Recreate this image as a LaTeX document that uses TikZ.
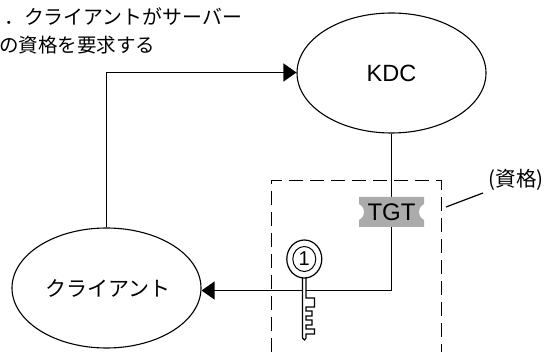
\documentclass[tikz,border=0pt]{standalone}
\usepackage{fontspec}
\setmainfont{Liberation Sans}
\newfontfamily\cjk{Noto Sans CJK JP}
\usetikzlibrary{arrows.meta,shapes.geometric}
\tikzset{
  ell/.style={draw=black,line width=1.1pt,ellipse,minimum width=189pt,minimum height=120pt,inner sep=0pt,font=\fontsize{23.5}{26}\selectfont},
  conn/.style={draw=black,line width=1.2pt},
  arr/.style={conn,-{Triangle[length=13pt,width=18pt]}},
  lab/.style={inner sep=0pt,anchor=base west,font=\cjk\fontsize{19.5}{22}\selectfont},
  keyline/.style={draw=black,line width=1.2pt,fill=white},
  frame/.style={draw=black,line width=1pt,dash pattern=on 14pt off 7pt}
}
\begin{document}
\begin{tikzpicture}[x=1pt,y=-1pt]
\useasboundingbox (0,0) rectangle (545,352);
\fill[white] (0,0) rectangle (545,352);
\node[ell] (kdc) at (391.5,73) {KDC};
\node[ell] (client) at (106.5,288) {\hspace{3pt}\cjk\fontsize{21}{24}\selectfont クライアント};
\node[lab,font=\cjk\fontsize{19.9}{22}\selectfont] (l1) at (4,24.5) {．クライアントがサーバー};
\node[lab] (l2) at (-1,52.5) {の資格を要求する};
\coordinate (c1) at (106.5,72.5);
\coordinate (c2) at (391.5,290.5);
\draw[arr] (client.north -| c1) -- (c1) -- (kdc.west |- c1);
\draw[arr] (kdc.south) -- (c2) -- (client.east |- c2);
% frame
\coordinate (fa) at (271,352);
\coordinate (fb) at (271,181);
\coordinate (fc) at (441,181);
\coordinate (fd) at (441,352);
\draw[frame] (fa) -- (fb) -- (fc) -- (fd);
% ticket
\fill[black!33] (359,197) -- (424,197) -- (424,204)
  .. controls (417,208) and (417,216) .. (424,220) -- (424,227) -- (359,227) -- (359,220)
  .. controls (366,216) and (366,208) .. (359,204) -- cycle;
\node[inner sep=0pt,font=\fontsize{24}{26}\selectfont] (tgt) at (391.5,212) {TGT};
% key
\draw[keyline] (302.5,276) -- (302.5,338) -- (304.5,340) -- (306,338) -- (306,334) -- (314.5,334) -- (314.5,329)
  -- (306,329) -- (306,325) -- (312,325) -- (312,320) -- (306,320) -- (306,316) -- (312,316)
  -- (312,311) -- (306,311) -- (306,307) -- (314.5,307) -- (314.5,298) -- (306,298) -- (306,276) -- cycle;
\draw[keyline] (304.3,259) ellipse[x radius=17.5pt,y radius=19pt];
\draw[keyline,line width=1pt] (304.3,259) ellipse[x radius=11.5pt,y radius=12.5pt];
\node[inner sep=0pt,font=\fontsize{20}{22}\selectfont] (one) at (304.3,259) {1};
% note
\node[lab,anchor=base east,font=\cjk\fontsize{20.5}{24}\selectfont] (cred) at (544,187) {(資格)};
\coordinate (n1) at (446,207);
\coordinate (n2) at (483,193);
\draw[conn] (n1) -- (n2);
\end{tikzpicture}
\end{document}
